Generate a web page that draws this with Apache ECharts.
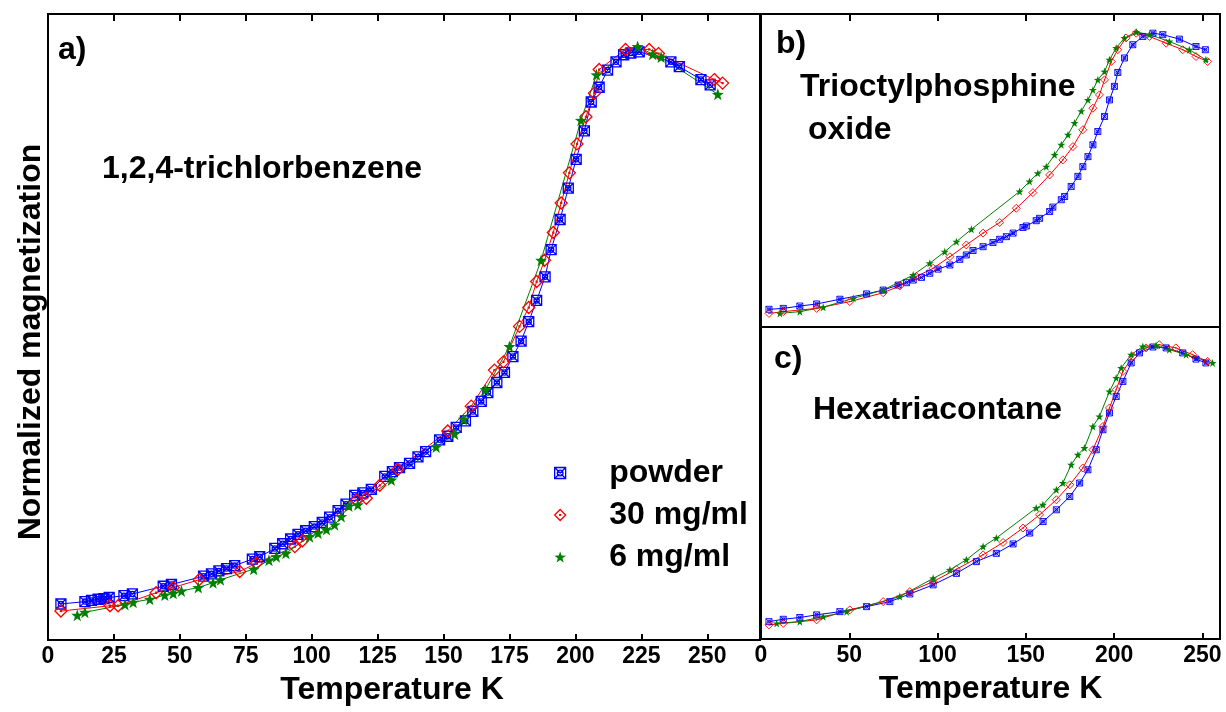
<!DOCTYPE html>
<html>
<head>
<meta charset="utf-8">
<script src="https://cdn.jsdelivr.net/npm/echarts@6/dist/echarts.min.js"></script>
<style>
  html, body { margin: 0; padding: 0; background: #fff; }
  #chart { width: 1226px; height: 712px; }
</style>
</head>
<body>
<div id="chart"></div>
<script>
/* data: temperature (K) and normalized magnetization */

// panel a) 1,2,4-trichlorbenzene
const aPowderT = [4.9, 14, 16.5, 19, 21.2, 23.2, 28.8, 32, 43.7, 46.8, 59, 62, 64.8, 67.7, 70.8, 77.5, 80.3, 86, 89, 92, 94.8, 97.7, 101, 104, 106.8, 110, 113, 116.3, 119.4, 122.6, 127.7, 130.6, 133.3, 137.1, 140.3, 143.2, 148.5, 151.6, 154.8, 158.3, 161.1, 164.3, 166.8, 170.2, 173.1, 176.3, 179.4, 182.3, 185.3, 188.5, 190.8, 194.2, 197.3, 200.3, 203.4, 206, 209, 212.2, 215.4, 218.3, 221, 224.2, 236.2, 239.4, 247.6, 251.1];
const aPowderM = [0.061, 0.065, 0.067, 0.069, 0.070, 0.072, 0.075, 0.078, 0.091, 0.094, 0.108, 0.112, 0.117, 0.121, 0.126, 0.137, 0.141, 0.155, 0.163, 0.171, 0.179, 0.185, 0.192, 0.199, 0.208, 0.219, 0.230, 0.245, 0.249, 0.255, 0.277, 0.285, 0.292, 0.299, 0.310, 0.319, 0.339, 0.345, 0.360, 0.371, 0.387, 0.404, 0.419, 0.436, 0.453, 0.480, 0.506, 0.539, 0.575, 0.615, 0.661, 0.712, 0.765, 0.814, 0.862, 0.911, 0.936, 0.965, 0.979, 0.991, 0.994, 0.996, 0.979, 0.971, 0.949, 0.940];
const a30T = [4.9, 23.5, 26.6, 41, 47.5, 57.3, 72.7, 79, 93.6, 96.5, 117, 120.7, 125.8, 132.7, 151.6, 160.5, 169.3, 172.7, 178.8, 182.3, 185.3, 188.3, 191.6, 194.6, 197.7, 200.6, 204, 207.2, 209, 219, 228, 231.5, 252.7, 255.8];
const a30M = [0.049, 0.058, 0.058, 0.080, 0.089, 0.102, 0.116, 0.130, 0.158, 0.168, 0.237, 0.240, 0.262, 0.289, 0.354, 0.396, 0.457, 0.471, 0.531, 0.563, 0.607, 0.643, 0.690, 0.740, 0.791, 0.840, 0.886, 0.926, 0.966, 1.0, 1.0, 0.993, 0.949, 0.943];
const a6T = [11.1, 14, 29.2, 32.3, 38.6, 44.3, 47.5, 50.6, 57, 62.6, 65.4, 78, 83.8, 86.6, 90.2, 99.2, 102.4, 105.6, 108.7, 111.2, 114.1, 117.5, 130.2, 147.2, 154.2, 157.6, 165.9, 175, 187, 202.1, 208, 223.6, 229.3, 232.5, 254];
const a6M = [0.042, 0.047, 0.060, 0.064, 0.069, 0.076, 0.079, 0.083, 0.089, 0.097, 0.102, 0.120, 0.135, 0.141, 0.147, 0.175, 0.181, 0.187, 0.195, 0.209, 0.227, 0.229, 0.271, 0.327, 0.349, 0.374, 0.424, 0.497, 0.643, 0.880, 0.957, 1.005, 0.992, 0.987, 0.924];

// panel b) Trioctylphosphine oxide
const bPowderT = [4.5, 12.6, 22, 31.5, 44.7, 59.8, 69.2, 77.7, 82.4, 86.2, 90.9, 95.6, 100.3, 107, 112.6, 116.3, 120.1, 125.8, 131.4, 135.2, 139, 142.8, 148.4, 150.3, 155.9, 157.8, 163.5, 165.3, 170.1, 172, 175.7, 179.5, 182.3, 185.2, 188, 190.8, 194.6, 197.4, 200.2, 202.1, 205.9, 210.6, 216.3, 222, 227.6, 237, 246.4, 251.7];
const bPowderM = [0.060, 0.063, 0.071, 0.078, 0.094, 0.112, 0.125, 0.142, 0.150, 0.159, 0.168, 0.182, 0.196, 0.210, 0.229, 0.244, 0.259, 0.272, 0.286, 0.297, 0.306, 0.318, 0.337, 0.342, 0.360, 0.368, 0.391, 0.406, 0.431, 0.442, 0.476, 0.510, 0.543, 0.577, 0.617, 0.662, 0.713, 0.769, 0.815, 0.862, 0.911, 0.956, 0.984, 0.995, 0.990, 0.975, 0.950, 0.939];
const b30T = [4.5, 12.6, 31.5, 50.3, 69.2, 78.6, 88, 97.5, 107, 116.3, 125.8, 135.2, 144.6, 154, 163.5, 171, 176.7, 182.3, 188, 191.7, 194.6, 198.4, 202.1, 206.8, 212.5, 220, 229.5, 238.9, 246.4, 253];
const b30M = [0.046, 0.052, 0.063, 0.086, 0.116, 0.139, 0.171, 0.199, 0.238, 0.278, 0.318, 0.354, 0.402, 0.455, 0.515, 0.566, 0.611, 0.668, 0.741, 0.786, 0.837, 0.899, 0.939, 0.979, 0.995, 0.984, 0.961, 0.939, 0.916, 0.899];
const b6T = [10.7, 22, 35.2, 52.3, 69.2, 86.2, 95.6, 104.1, 110.7, 119.2, 146.5, 152.1, 156.8, 161.6, 166.3, 170.1, 173.9, 177.6, 181.4, 185.2, 188, 190.8, 194.6, 197.4, 201.2, 205.9, 212.5, 220, 231.3, 242.6, 252];
const b6M = [0.046, 0.052, 0.067, 0.097, 0.125, 0.176, 0.216, 0.255, 0.289, 0.331, 0.459, 0.493, 0.521, 0.543, 0.583, 0.617, 0.651, 0.691, 0.731, 0.769, 0.803, 0.837, 0.865, 0.905, 0.945, 0.979, 0.999, 0.990, 0.967, 0.939, 0.905];

// panel c) Hexatriacontane
const cPowderT = [4.5, 12.6, 22, 31.5, 44.7, 59.8, 73, 84.3, 97.5, 110.7, 122, 133.3, 142.8, 152.2, 159.8, 167.3, 174.9, 180.5, 185.2, 189.9, 193.7, 197.4, 201.2, 205, 209.7, 214.4, 222, 229.5, 238.9, 246.4, 252];
const cPowderM = [0.059, 0.067, 0.073, 0.082, 0.093, 0.110, 0.127, 0.153, 0.184, 0.223, 0.263, 0.291, 0.323, 0.360, 0.399, 0.439, 0.484, 0.530, 0.575, 0.643, 0.711, 0.768, 0.824, 0.875, 0.938, 0.972, 0.992, 0.989, 0.972, 0.951, 0.938];
const c30T = [4.5, 12.6, 31.5, 50.3, 69.2, 84.3, 97.5, 110.7, 125.8, 137.1, 148.4, 157.8, 167.3, 174.9, 182.3, 188, 193.7, 197.4, 201.2, 205, 210.6, 218.1, 225.6, 235, 244.5, 253];
const c30M = [0.048, 0.053, 0.065, 0.099, 0.127, 0.161, 0.195, 0.237, 0.286, 0.328, 0.377, 0.422, 0.473, 0.524, 0.581, 0.643, 0.722, 0.785, 0.847, 0.909, 0.960, 0.989, 1.0, 0.989, 0.966, 0.943];
const c6T = [8.9, 22, 35.2, 48.5, 78.6, 97.5, 107, 116.3, 125.8, 133.3, 155.9, 159.7, 167.3, 171, 175.7, 179.5, 183.2, 188, 191.7, 197.4, 201.2, 204, 209.7, 216.3, 223.8, 231.3, 240.8, 255.8];
const c6M = [0.053, 0.059, 0.076, 0.093, 0.144, 0.206, 0.235, 0.269, 0.314, 0.343, 0.445, 0.456, 0.507, 0.530, 0.592, 0.626, 0.649, 0.722, 0.756, 0.841, 0.887, 0.921, 0.966, 0.994, 0.997, 0.983, 0.966, 0.938];

const seriesNames = ['powder', '30 mg/ml', '6 mg/ml'];

/* symbols */
const boxX = 'path://M0,0 L10,0 L10,10 L0,10 Z M0,0 L10,10 M10,0 L0,10 M7.6,5 A2.6,2.6 0 1 1 2.4,5 A2.6,2.6 0 1 1 7.6,5 Z';
const diamondDot = 'path://M5,0 L10,5 L5,10 L0,5 Z M4.6,4.6 L5.4,4.6 L5.4,5.4 L4.6,5.4 Z';
const star = 'path://M5,0 L6.18,3.38 L9.76,3.45 L6.9,5.62 L7.94,9.05 L5,7 L2.06,9.05 L3.1,5.62 L0.24,3.45 L3.82,3.38 Z';

const BLUE = '#0000ff', RED = '#ff0000', GREEN = '#008000';
const FONT = "'Liberation Sans', Arial, sans-serif";

function zip(t, m) {
    return t.map((v, i) => [v, m[i]]);
}

function mkSeries(name, t, m, idx, size) {
    // thinner outlines for the small panels
    let bw = idx === 0 ? 1.3 : 0.9;
    let s = {
        name: name,
        type: 'line',
        xAxisIndex: idx * 2,
        yAxisIndex: idx,
        data: zip(t, m),
        symbolSize: size,
        lineStyle: { width: 1 },
        emphasis: { disabled: true },
        z: 3
    };
    if (name === seriesNames[0]) {
        s.symbol = boxX;
        s.lineStyle.color = BLUE;
        s.itemStyle = { color: 'rgba(0,0,0,0)', borderColor: BLUE, borderWidth: bw };
    } else if (name === seriesNames[1]) {
        s.symbol = diamondDot;
        s.symbolSize = size + 2;
        s.lineStyle.color = RED;
        s.itemStyle = { color: 'rgba(0,0,0,0)', borderColor: RED, borderWidth: bw };
    } else {
        s.symbol = star;
        s.symbolSize = size + 2;
        s.lineStyle.color = GREEN;
        s.itemStyle = { color: GREEN, borderWidth: 0 };
    }
    return s;
}

/* three panels: a) big one, b) top-right, c) bottom-right */
const grids = [
    { left: 48, top: 14, width: 712, height: 626 },
    { left: 761, top: 14, width: 459, height: 313 },
    { left: 761, top: 327, width: 459, height: 312 }
];

const tickLabel = { fontFamily: FONT, fontSize: 23, fontWeight: 'bold', color: '#000' };

function bottomAxis(gi, max, step, labels) {
    return {
        type: 'value', gridIndex: gi, position: 'bottom',
        min: 0, max: max, interval: step,
        axisLine: { show: false },
        axisTick: { show: labels, inside: true, length: 6, lineStyle: { color: '#000', width: 2 } },
        axisLabel: labels ? Object.assign({ margin: 5, showMaxLabel: false }, tickLabel) : { show: false },
        splitLine: { show: false },
        name: labels ? 'Temperature K' : '',
        nameLocation: 'middle',
        nameGap: 34,
        nameTextStyle: { fontFamily: FONT, fontSize: 32, fontWeight: 'bold', color: '#000', padding: gi === 0 ? [0, 24, 0, 0] : 0 }
    };
}

function topAxis(gi, max, step, show) {
    return {
        type: 'value', gridIndex: gi, position: 'top',
        min: 0, max: max, interval: step,
        axisLine: { show: false },
        axisTick: { show: show, inside: true, length: 7, lineStyle: { color: '#000', width: 2 } },
        axisLabel: { show: false },
        splitLine: { show: false }
    };
}

function yAxis(gi) {
    return {
        type: 'value', gridIndex: gi, min: 0, max: 1.06,
        axisLine: { show: false }, axisTick: { show: false },
        axisLabel: { show: false }, splitLine: { show: false }
    };
}

let chartDom = document.getElementById('chart');
let myChart = echarts.init(chartDom, null, { renderer: 'canvas' });

let option = {
    animation: false,
    backgroundColor: '#fff',
    grid: grids.map(g => Object.assign({
        show: true, borderColor: '#000', borderWidth: 2, backgroundColor: 'transparent'
    }, g)),
    xAxis: [
        bottomAxis(0, 270, 25, true), topAxis(0, 270, 25, true),
        bottomAxis(1, 260, 50, false), topAxis(1, 260, 50, true),
        bottomAxis(2, 260, 50, true), topAxis(2, 260, 50, false)
    ],
    yAxis: [yAxis(0), yAxis(1), yAxis(2)],
    legend: {
        orient: 'vertical',
        left: 549,
        top: 452,
        itemWidth: 88,
        itemHeight: 11,
        itemGap: 10,
        selectedMode: false,
        textStyle: { fontFamily: FONT, fontSize: 32, fontWeight: 'bold', color: '#000', lineHeight: 32 },
        data: [
            { name: seriesNames[0], icon: boxX, itemStyle: { color: 'rgba(0,0,0,0)', borderColor: BLUE, borderWidth: 1.3 } },
            { name: seriesNames[1], icon: diamondDot, itemStyle: { color: 'rgba(0,0,0,0)', borderColor: RED, borderWidth: 1.3 } },
            { name: seriesNames[2], icon: star, itemStyle: { color: GREEN, borderWidth: 0 } }
        ]
    },
    graphic: [
        { type: 'text', left: 58, top: 34, style: { text: 'a)', font: 'bold 32px ' + FONT, fill: '#000' } },
        { type: 'text', left: 102, top: 153, style: { text: '1,2,4-trichlorbenzene', font: 'bold 32px ' + FONT, fill: '#000' } },
        { type: 'text', left: 776, top: 28, style: { text: 'b)', font: 'bold 32px ' + FONT, fill: '#000' } },
        { type: 'text', left: 800, top: 71, style: { text: 'Trioctylphosphine', font: 'bold 32px ' + FONT, fill: '#000' } },
        { type: 'text', left: 808, top: 114, style: { text: 'oxide', font: 'bold 32px ' + FONT, fill: '#000' } },
        { type: 'text', left: 774, top: 343, style: { text: 'c)', font: 'bold 32px ' + FONT, fill: '#000' } },
        { type: 'text', left: 813, top: 394, style: { text: 'Hexatriacontane', font: 'bold 32px ' + FONT, fill: '#000' } },
        {
            type: 'text', x: 31, y: 342, rotation: Math.PI / 2,
            style: { text: 'Normalized magnetization', font: 'bold 32px ' + FONT, fill: '#000', align: 'center', verticalAlign: 'middle' }
        }
    ],
    series: [
        mkSeries(seriesNames[0], aPowderT, aPowderM, 0, 10),
        mkSeries(seriesNames[1], a30T, a30M, 0, 10),
        mkSeries(seriesNames[2], a6T, a6M, 0, 10),
        mkSeries(seriesNames[0], bPowderT, bPowderM, 1, 6),
        mkSeries(seriesNames[1], b30T, b30M, 1, 6),
        mkSeries(seriesNames[2], b6T, b6M, 1, 6),
        mkSeries(seriesNames[0], cPowderT, cPowderM, 2, 6),
        mkSeries(seriesNames[1], c30T, c30M, 2, 6),
        mkSeries(seriesNames[2], c6T, c6M, 2, 6)
    ]
};

option && myChart.setOption(option);

window.addEventListener('resize', () => {
    myChart.resize();
});
</script>
</body>
</html>
